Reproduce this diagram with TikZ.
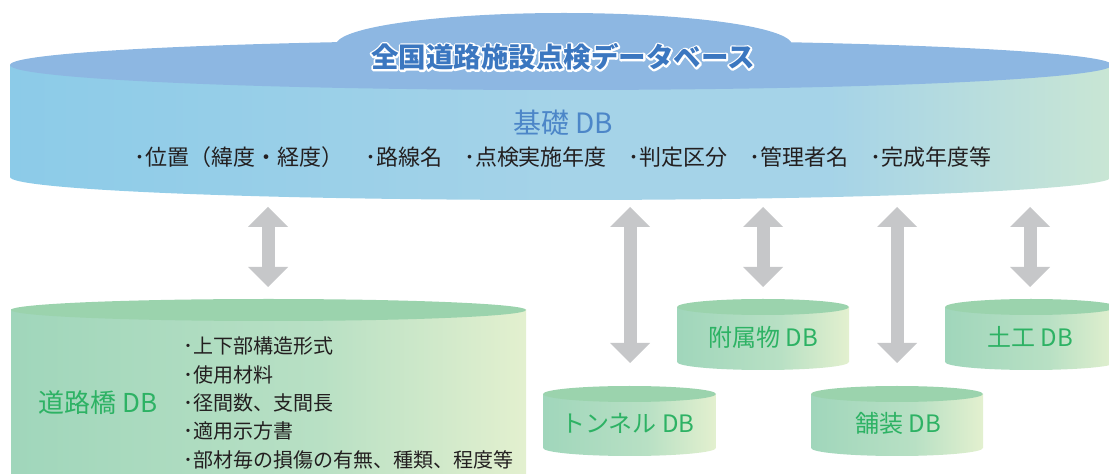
\documentclass[tikz,border=0pt]{standalone}
\usepackage{fontspec}
\setmainfont{Noto Sans CJK JP}
\usetikzlibrary{arrows.meta}

\definecolor{kisotop}{HTML}{8DB7E2}
\definecolor{kisoL}{HTML}{8CCBE8}
\definecolor{kisoM}{HTML}{A5D3E8}
\definecolor{kisoR}{HTML}{C9E6D4}
\definecolor{dbtop}{HTML}{9BD3AD}
\definecolor{dbL}{HTML}{A0D6BB}
\definecolor{dbM}{HTML}{B8E0C4}
\definecolor{dbR}{HTML}{E3F0CF}
\definecolor{arrowgray}{HTML}{C6C7C9}
\definecolor{titleblue}{HTML}{3B77C0}
\definecolor{kisoblue}{HTML}{4C86C8}
\definecolor{dbgreen}{HTML}{2DB264}
\definecolor{itemblack}{HTML}{231F20}

\pgfdeclarehorizontalshading{kisoshade}{100bp}{color(0bp)=(kisoL); color(25bp)=(kisoL); color(50bp)=(kisoM); color(62bp)=(kisoM); color(75bp)=(kisoR); color(100bp)=(kisoR)}
\pgfdeclarehorizontalshading{dbshade}{100bp}{color(0bp)=(dbL); color(25bp)=(dbL); color(55bp)=(dbM); color(75bp)=(dbR); color(100bp)=(dbR)}

% white outline behind the title
\newcommand\halotext[1]{\rlap{\special{pdf:literal direct 1 Tr 3.6 w 1 j 1 1 1 RG}#1\special{pdf:literal direct 0 Tr}}#1}

\tikzset{
  dblarrow/.style={draw=arrowgray, line width=13pt,
    {Triangle[length=20pt,width=40pt,line width=0pt]}-{Triangle[length=20pt,width=40pt,line width=0pt]}},
  dblabel/.style={text=dbgreen, font=\fontsize{24}{28}\selectfont, inner sep=0pt},
  itemtext/.style={text=itemblack, font=\fontsize{22}{26}\selectfont, inner sep=0pt},
}

\begin{document}
\begin{tikzpicture}[x=1pt,y=1pt]
  \useasboundingbox (0,0) rectangle (1109,474);

  % kiso DB
  \shade[shading=kisoshade] (10,409) rectangle (1112,297) (561,297) ellipse [x radius=551pt, y radius=23pt];
  \fill[kisotop] (561,409) ellipse [x radius=551pt, y radius=25pt] (564,429) ellipse [x radius=228pt, y radius=32pt];
  \node[text=titleblue, font=\fontsize{27.5}{30}\selectfont\bfseries, inner sep=0pt] (title) at (563,417) {\halotext{全国道路施設点検データベース}};
  \node[text=kisoblue, font=\fontsize{28}{30}\selectfont, inner sep=0pt] (kiso) at (563,351) {基礎 DB};
  \node[itemtext] (kisoitems) at (563,317) {･位置（緯度・経度）　･路線名　･点検実施年度　･判定区分　･管理者名　･完成年度等};

  % doro-kyo DB
  \shade[shading=dbshade] (11,164) rectangle (526,-20);
  \fill[dbtop] (268.5,164) ellipse [x radius=257.5pt, y radius=11pt];
  \node[dblabel, font=\fontsize{26}{30}\selectfont] (kyoryo) at (98,71) {道路橋 DB};
  \node[itemtext, font=\fontsize{20}{28.3}\selectfont, align=left, anchor=west] (kyoryoitems) at (183,71)
    {･上下部構造形式\\･使用材料\\･径間数、支間長\\･適用示方書\\･部材毎の損傷の有無、種類、程度等};

  % fuzokubutsu, doko
  \shade[shading=dbshade] (677,167) rectangle (849,112) (763,112) ellipse [x radius=86pt, y radius=8pt];
  \fill[dbtop] (763,167) ellipse [x radius=86pt, y radius=8pt];
  \node[dblabel] (futai) at (763,137) {附属物 DB};

  \shade[shading=dbshade] (945,167) rectangle (1117,112) (1031,112) ellipse [x radius=86pt, y radius=8pt];
  \fill[dbtop] (1031,167) ellipse [x radius=86pt, y radius=8pt];
  \node[dblabel] (doko) at (1030,137) {土工 DB};

  % tunnel, hoso
  \shade[shading=dbshade] (543,80) rectangle (716,26) (629.5,26) ellipse [x radius=86.5pt, y radius=8pt];
  \fill[dbtop] (629.5,80) ellipse [x radius=86.5pt, y radius=8pt];
  \node[dblabel] (tunnel) at (628,51) {トンネル DB};

  \shade[shading=dbshade] (811,80) rectangle (983,26) (897,26) ellipse [x radius=86pt, y radius=8pt];
  \fill[dbtop] (897,80) ellipse [x radius=86pt, y radius=8pt];
  \node[dblabel] (hoso) at (898,51) {舗装 DB};

  % arrows
  \coordinate (kyoryoUp) at (268,267);
  \coordinate (kyoryoDn) at (268,187);
  \coordinate (tunnelUp) at (630,267);
  \coordinate (tunnelDn) at (630,111);
  \coordinate (futaiUp) at (763,267);
  \coordinate (futaiDn) at (763,187);
  \coordinate (hosoUp) at (897,267);
  \coordinate (hosoDn) at (897,111);
  \coordinate (dokoUp) at (1030,267);
  \coordinate (dokoDn) at (1030,187);

  \draw[dblarrow] (kyoryoUp) -- (kyoryoDn);
  \draw[dblarrow] (tunnelUp) -- (tunnelDn);
  \draw[dblarrow] (futaiUp) -- (futaiDn);
  \draw[dblarrow] (hosoUp) -- (hosoDn);
  \draw[dblarrow] (dokoUp) -- (dokoDn);
\end{tikzpicture}
\end{document}
